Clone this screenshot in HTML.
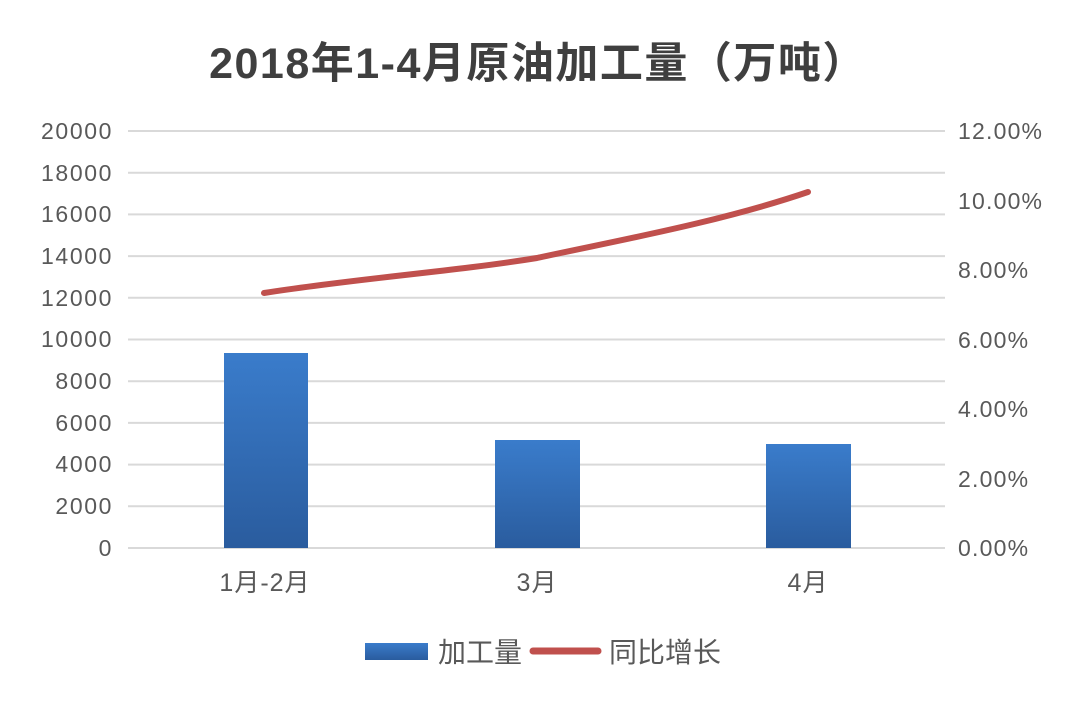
<!DOCTYPE html>
<html><head><meta charset="utf-8"><style>
html,body{margin:0;padding:0;background:#fff;}
svg{display:block;}
text{font-family:"Liberation Sans","Noto Sans CJK SC",sans-serif;fill:#595959;}
</style></head><body>
<svg width="1080" height="712" viewBox="0 0 1080 712">
<defs>
<linearGradient id="bg" x1="0" y1="0" x2="0" y2="1">
<stop offset="0" stop-color="#3a7ccb"/><stop offset="1" stop-color="#2a5c9e"/>
</linearGradient>
</defs>
<text x="538" y="78" text-anchor="middle" font-size="43" font-weight="bold" letter-spacing="1.5" style="fill:#3f3f3f">2018年1-4月原油加工量（万吨）</text>
<g stroke="#d9d9d9" stroke-width="2">
<line x1="128" x2="945" y1="131" y2="131"/>
<line x1="128" x2="945" y1="172.7" y2="172.7"/>
<line x1="128" x2="945" y1="214.4" y2="214.4"/>
<line x1="128" x2="945" y1="256.1" y2="256.1"/>
<line x1="128" x2="945" y1="297.8" y2="297.8"/>
<line x1="128" x2="945" y1="339.5" y2="339.5"/>
<line x1="128" x2="945" y1="381.2" y2="381.2"/>
<line x1="128" x2="945" y1="422.9" y2="422.9"/>
<line x1="128" x2="945" y1="464.6" y2="464.6"/>
<line x1="128" x2="945" y1="506.3" y2="506.3"/>
<line x1="128" x2="945" y1="548" y2="548"/>
</g>
<g font-size="23" text-anchor="end" letter-spacing="1.6">
<text x="113" y="139">20000</text>
<text x="113" y="181">18000</text>
<text x="113" y="222">16000</text>
<text x="113" y="264">14000</text>
<text x="113" y="306">12000</text>
<text x="113" y="347">10000</text>
<text x="113" y="389">8000</text>
<text x="113" y="431">6000</text>
<text x="113" y="472">4000</text>
<text x="113" y="514">2000</text>
<text x="113" y="556">0</text>
</g>
<g font-size="23" text-anchor="start" letter-spacing="1.2">
<text x="958" y="139">12.00%</text>
<text x="958" y="209">10.00%</text>
<text x="958" y="278">8.00%</text>
<text x="958" y="348">6.00%</text>
<text x="958" y="417">4.00%</text>
<text x="958" y="487">2.00%</text>
<text x="958" y="556">0.00%</text>
</g>
<rect x="224" y="353" width="84" height="195" fill="url(#bg)"/>
<rect x="495" y="440" width="85" height="108" fill="url(#bg)"/>
<rect x="766" y="444" width="85" height="104" fill="url(#bg)"/>
<path d="M264,293 C360,278 450,272 537,258 C620,240 720,222 808,192" fill="none" stroke="#c0504d" stroke-width="6" stroke-linecap="round"/>
<g font-size="25" text-anchor="middle" letter-spacing="1">
<text x="265" y="591">1月-2月</text>
<text x="537" y="591">3月</text>
<text x="808" y="591">4月</text>
</g>
<rect x="365" y="643" width="63" height="17" fill="url(#bg)"/>
<text x="438" y="662" font-size="28">加工量</text>
<line x1="533" x2="598" y1="651" y2="651" stroke="#c0504d" stroke-width="7" stroke-linecap="round"/>
<text x="609" y="662" font-size="28">同比增长</text>
</svg>
</body></html>
